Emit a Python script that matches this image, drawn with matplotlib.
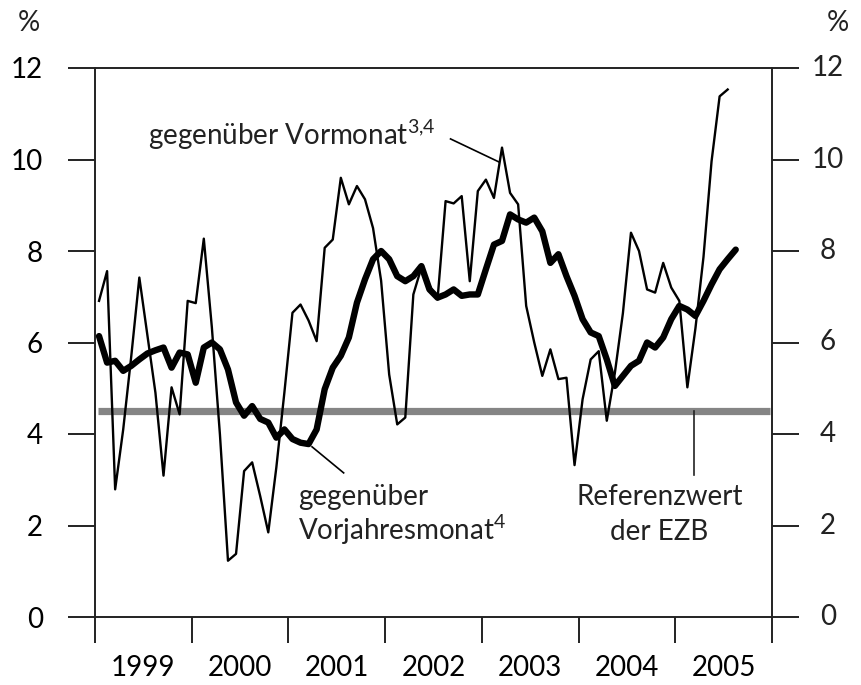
import numpy as np
import matplotlib
matplotlib.use("Agg")
import matplotlib.pyplot as plt

# Geldmenge M3, Veraenderung in % (monthly, Jan 1999 onwards)
vormonat = [6.91, 7.56, 2.79, 4.1, 5.7, 7.42, 6.16, 4.9, 3.09, 5.02, 4.43, 6.91,
            6.86, 8.27, 6.33, 3.99, 1.23, 1.38, 3.19, 3.38, 2.64, 1.85, 3.27, 4.91,
            6.65, 6.83, 6.48, 6.03, 8.07, 8.25, 9.60, 9.02, 9.42, 9.13, 8.5, 7.35,
            5.3, 4.21, 4.36, 7.05, 7.64, 7.25, 6.94, 9.09, 9.04, 9.20, 7.34, 9.31,
            9.56, 9.16, 10.26, 9.27, 9.02, 6.8, 6.0, 5.27, 5.85, 5.2, 5.23, 3.32,
            4.76, 5.63, 5.81, 4.29, 5.33, 6.64, 8.40, 8.0, 7.16, 7.09, 7.74, 7.2,
            6.91, 5.02, 6.31, 7.87, 9.96, 11.38, 11.53]
vorjahr = [6.14, 5.56, 5.6, 5.38, 5.49, 5.63, 5.76, 5.83, 5.89, 5.45, 5.78, 5.74,
           5.12, 5.89, 6.0, 5.85, 5.41, 4.69, 4.40, 4.61, 4.33, 4.25, 3.92, 4.10,
           3.89, 3.81, 3.78, 4.10, 4.98, 5.45, 5.71, 6.11, 6.87, 7.38, 7.82, 8.0,
           7.82, 7.45, 7.34, 7.45, 7.67, 7.16, 6.98, 7.05, 7.16, 7.02, 7.05, 7.05,
           7.6, 8.14, 8.22, 8.80, 8.69, 8.62, 8.73, 8.43, 7.74, 7.93, 7.45, 7.02,
           6.51, 6.22, 6.14, 5.63, 5.05, 5.27, 5.49, 5.60, 6.0, 5.89, 6.11, 6.51,
           6.80, 6.72, 6.58, 6.91, 7.27, 7.60, 7.82, 8.03]
referenzwert = 4.5
jahre = [1999, 2000, 2001, 2002, 2003, 2004, 2005]
y_ticks = [0, 2, 4, 6, 8, 10, 12]

plt.rcParams['font.family'] = ['Lato', 'DejaVu Sans']
plt.rcParams['mathtext.default'] = 'regular'
FS = 20
ink = '#222222'

fig = plt.figure(figsize=(8.62, 6.85), dpi=100)
ax = fig.add_axes([95 / 862, 1 - 617 / 685, 677 / 862, 549 / 685])

x_vm = 1999 + (np.arange(len(vormonat)) + 0.5) / 12
x_vj = 1999 + (np.arange(len(vorjahr)) + 0.5) / 12

ax.axhline(referenzwert, xmin=0.004, xmax=0.997, color='#858585', lw=5.2,
           solid_capstyle='butt', zorder=1)
ax.plot(x_vm, vormonat, color='black', lw=1.7, zorder=3)
ax.plot(x_vj, vorjahr, color='black', lw=4.6, zorder=4,
        solid_joinstyle='round', solid_capstyle='round')

ax.set_xlim(1999, 2006)
ax.set_ylim(0, 12)
for s in ax.spines.values():
    s.set_color(ink)
    s.set_linewidth(1.4)

ax.set_yticks(y_ticks)
ax.set_yticklabels([str(v) for v in y_ticks])
ax.tick_params(axis='y', which='major', direction='out', length=19.5, width=1.4,
               color=ink, left=True, right=True, labelleft=True, labelright=False,
               labelsize=FS, pad=18)
ax.set_xticks(range(1999, 2007))
ax.set_xticklabels([])
ax.set_xticks([j + 0.5 for j in jahre], [str(j) for j in jahre], minor=True)
ax.tick_params(axis='x', which='major', direction='out', length=19, width=1.4, color=ink)
ax.tick_params(axis='x', which='minor', length=0, labelsize=FS, pad=27)

# right-hand labels are centred
ytr = ax.get_yaxis_transform()
for v in y_ticks:
    ax.text(1.0827, v, str(v), transform=ytr, ha='center', va='center',
            fontsize=FS, color=ink)
fig.text(40 / 862, 1 - 23 / 685, '%', ha='right', va='center', fontsize=FS, color=ink)
fig.text(838 / 862, 1 - 23 / 685, '%', ha='center', va='center', fontsize=FS, color=ink)

# annotations
ax.text(1999.55, 10.32, r'gegenüber Vormonat$^{3{,}4}$', fontsize=FS,
        va='baseline', ha='left', color=ink)
ax.plot([2002.676, 2003.173], [10.45, 9.95], color='black', lw=1.2)

ax.text(2001.102, 2.45, 'gegenüber', fontsize=FS, va='baseline', ha='left', color=ink)
ax.text(2001.102, 1.68, r'Vorjahresmonat$^{4}$', fontsize=FS,
        va='baseline', ha='left', color=ink)
ax.plot([2001.244, 2001.571], [3.72, 3.15], color='black', lw=1.2)

ax.text(2004.84, 2.45, 'Referenzwert', fontsize=FS, va='baseline', ha='center', color=ink)
ax.text(2004.83, 1.68, 'der EZB', fontsize=FS, va='baseline', ha='center', color=ink)
ax.plot([2005.196, 2005.196], [referenzwert, 3.10], color=ink, lw=1.2)

fig.savefig('out.png', dpi=100)
